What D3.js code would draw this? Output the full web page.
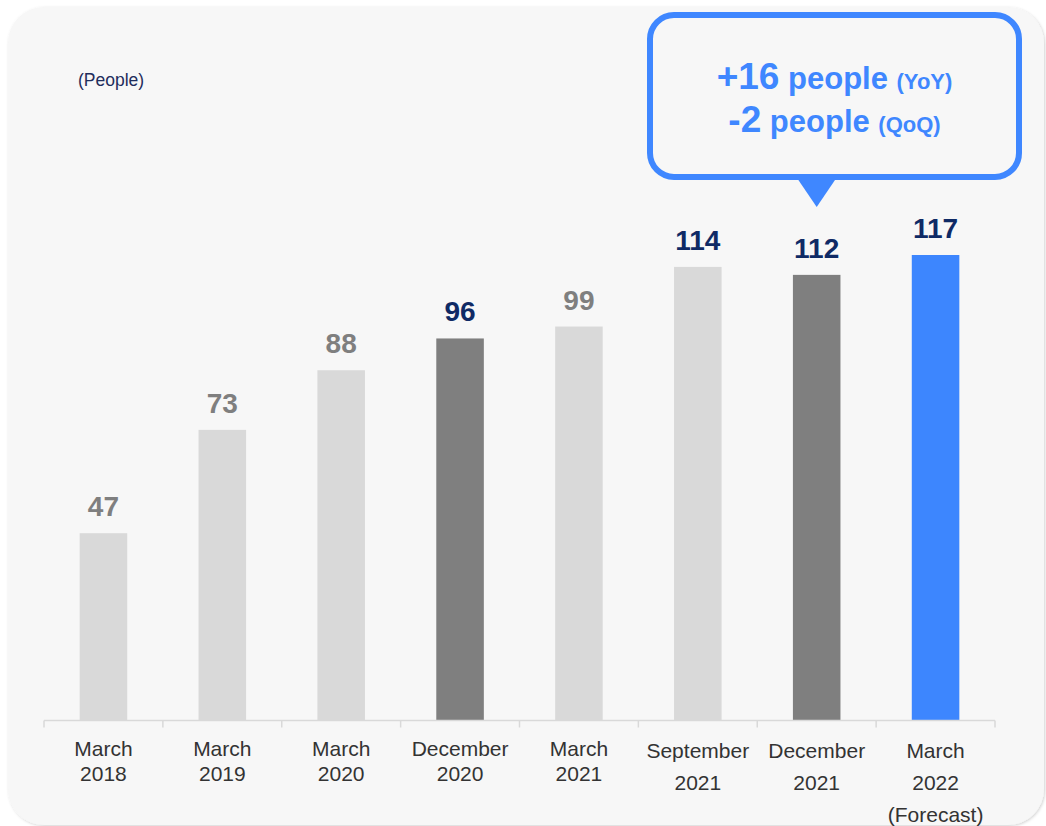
<!DOCTYPE html>
<html>
<head>
<meta charset="utf-8">
<script src="https://cdn.jsdelivr.net/npm/d3@7"></script>
<style>
  html, body { margin: 0; padding: 0; background: #ffffff; }
  svg { display: block; font-family: Arial, "Liberation Sans", sans-serif; }
</style>
</head>
<body>
<svg id="chart" width="1046" height="826"></svg>
<script>
// Headcount at each reporting date
const categories = [
  ["March", "2018"],
  ["March", "2019"],
  ["March", "2020"],
  ["December", "2020"],
  ["March", "2021"],
  ["September", "2021"],
  ["December", "2021"],
  ["March", "2022", "(Forecast)"]
];
const values = [47, 73, 88, 96, 99, 114, 112, 117];
// "fy" = fiscal year end, "q3" = December quarter, "fc" = forecast
const periodTypes = ["fy", "fy", "fy", "q3", "fy", "fy", "q3", "fc"];
const unitLabel = "(People)";
const calloutLines = [
  [{ t: "+16", k: "num" }, { t: " people ", k: "word" }, { t: "(YoY)", k: "tag" }],
  [{ t: "-2", k: "num" }, { t: " people ", k: "word" }, { t: "(QoQ)", k: "tag" }]
];

const barFill = { fy: "#d9d9d9", q3: "#7f7f7f", fc: "#3d86fe" };
const highlight = new Set([3, 5, 6, 7]);
const navy = "#0f2a65";
const grey = "#7f7f7f";
const blue = "#3f87ff";

const svg = d3.select("#chart");

// Card background with a soft shadow
const defs = svg.append("defs");
const sh = defs.append("filter").attr("id", "shadow")
  .attr("x", "-5%").attr("y", "-5%").attr("width", "110%").attr("height", "110%");
sh.append("feDropShadow").attr("dx", 1).attr("dy", 1).attr("stdDeviation", 1.5)
  .attr("flood-color", "#000").attr("flood-opacity", 0.18);

svg.append("rect")
  .attr("x", 8).attr("y", 7).attr("width", 1036).attr("height", 818)
  .attr("rx", 36).attr("ry", 36)
  .attr("fill", "#f7f7f7")
  .attr("filter", "url(#shadow)");

// Scales
const x0 = 44, x1 = 995;
const x = d3.scaleBand()
  .domain(d3.range(values.length))
  .range([x0, x1])
  .paddingInner(0.6)
  .paddingOuter(0.3);

const y = d3.scaleLinear()
  .domain([0, 117])
  .range([720, 255]);

// Bars
svg.append("g")
  .selectAll("rect")
  .data(values)
  .join("rect")
  .attr("x", (d, i) => x(i))
  .attr("y", d => y(d))
  .attr("width", x.bandwidth())
  .attr("height", d => y(0) - y(d))
  .attr("fill", (d, i) => barFill[periodTypes[i]]);

// Value labels
svg.append("g")
  .selectAll("text")
  .data(values)
  .join("text")
  .attr("x", (d, i) => x(i) + x.bandwidth() / 2)
  .attr("y", d => y(d) - 17)
  .attr("text-anchor", "middle")
  .attr("font-size", 28)
  .attr("font-weight", "bold")
  .attr("fill", (d, i) => highlight.has(i) ? navy : grey)
  .text(d => d);

// Category axis: baseline with boundary ticks
const axisY = 720.5;
const bounds = d3.range(values.length + 1).map(i => x0 + i * x.step());
const axisG = svg.append("g").attr("stroke", "#d9d9d9").attr("stroke-width", 1.5);
axisG.append("line")
  .attr("x1", x0).attr("x2", x1)
  .attr("y1", axisY).attr("y2", axisY);
axisG.selectAll("line.tick")
  .data(bounds)
  .join("line")
  .attr("class", "tick")
  .attr("x1", d => d).attr("x2", d => d)
  .attr("y1", axisY).attr("y2", axisY + 7);

// Category labels (the later periods use looser line spacing)
const catG = svg.append("g");
categories.forEach((lines, i) => {
  const loose = i >= 5;
  const t = catG.append("text")
    .attr("x", x(i) + x.bandwidth() / 2)
    .attr("text-anchor", "middle")
    .attr("font-size", 21)
    .attr("fill", "#333333");
  lines.forEach((ln, j) => {
    t.append("tspan")
      .attr("x", x(i) + x.bandwidth() / 2)
      .attr("y", loose ? 758 + j * 32 : 756 + j * 25)
      .text(ln);
  });
});

// Unit label
svg.append("text")
  .attr("x", 78).attr("y", 86)
  .attr("font-size", 17.5)
  .attr("fill", "#1f2d5c")
  .text(unitLabel);

// Callout box pointing at the December 2021 bar
const cx = x(6) + x.bandwidth() / 2;
const box = { x: 650, y: 15, w: 369, h: 162, r: 24 };
const callout = svg.append("g");
callout.append("rect")
  .attr("x", box.x).attr("y", box.y)
  .attr("width", box.w).attr("height", box.h)
  .attr("rx", box.r).attr("ry", box.r)
  .attr("fill", "#f7f7f7")
  .attr("stroke", blue)
  .attr("stroke-width", 6);
callout.append("path")
  .attr("d", `M${cx - 19},${box.y + box.h + 2} L${cx + 19},${box.y + box.h + 2} L${cx},${box.y + box.h + 30} Z`)
  .attr("fill", blue);

const sizes = { num: 37, word: 31, tag: 22 };
const boxCx = box.x + box.w / 2;
calloutLines.forEach((parts, j) => {
  const t = callout.append("text")
    .attr("x", boxCx)
    .attr("y", 89 + j * 43)
    .attr("text-anchor", "middle")
    .attr("font-weight", "bold")
    .attr("fill", blue)
    .attr("xml:space", "preserve");
  parts.forEach(p => {
    t.append("tspan")
      .attr("font-size", sizes[p.k])
      .text(p.t);
  });
});
</script>
</body>
</html>
